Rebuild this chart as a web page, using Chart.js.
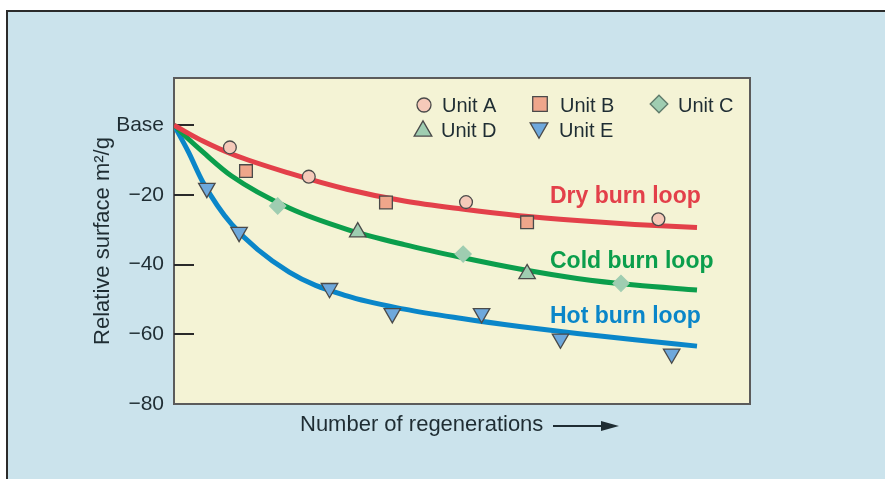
<!DOCTYPE html>
<html>
<head>
<meta charset="utf-8">
<script src="https://cdn.jsdelivr.net/npm/chart.js@4.4.1/dist/chart.umd.min.js"></script>
<style>
  html, body { margin: 0; padding: 0; background: #fff; }
  canvas { display: block; }
</style>
</head>
<body>
<canvas id="chart" width="885" height="479"></canvas>
<script>
// --- data (x = regenerations, arbitrary units) ---
const curveX   = [0, 2.5, 5, 10, 20, 30, 40, 50, 60, 70, 80, 90.8];
const dryLoop  = [0, -2.4, -4.6, -8.3, -13.8, -18.4, -21.8, -24.1, -26.0, -27.4, -28.5, -29.4];
const coldLoop = [0, -4.0, -7.7, -14.6, -23.8, -29.9, -34.3, -38.0, -41.3, -44.0, -45.9, -47.3];
const hotLoop  = [0, -7.7, -16.3, -28.4, -42.2, -49.0, -52.8, -55.5, -57.8, -59.8, -61.6, -63.4];
const loopNames = ['Dry burn loop', 'Cold burn loop', 'Hot burn loop'];

const unitAX = [9.7, 23.4, 50.7, 84.1];
const unitAY = [-6.4, -14.8, -22.1, -27.0];
const unitBX = [12.5, 36.8, 61.3];
const unitBY = [-13.2, -22.2, -27.9];
const unitCX = [18.0, 50.2, 77.6];
const unitCY = [-23.2, -37.0, -45.4];
const unitDX = [31.9, 61.3];
const unitDY = [-30.7, -42.7];
const unitEX = [5.7, 11.3, 27.0, 37.9, 53.4, 67.1, 86.4];
const unitEY = [-18.1, -30.7, -46.8, -54.0, -54.0, -61.3, -65.6];

const yTicks = [0, -20, -40, -60, -80];
const yTickLabels = ['Base', '\u221220', '\u221240', '\u221260', '\u221280'];

const TEXT = '#1f2d33';
const EDGE = '#4a4a4a';
const FONT = "'Liberation Sans', Arial, Helvetica, sans-serif";

const pts = (xs, ys) => xs.map((x, i) => ({ x, y: ys[i] }));

function curve(label, ys, color) {
    return {
        type: 'line', label, data: pts(curveX, ys),
        borderColor: color, borderWidth: 5, pointRadius: 0,
        cubicInterpolationMode: 'monotone', fill: false, order: 2
    };
}

function marker(label, xs, ys, style, radius, fill, edge, rotation) {
    return {
        type: 'scatter', label, data: pts(xs, ys),
        pointStyle: style, pointRadius: radius, pointRotation: rotation || 0,
        pointBackgroundColor: fill, pointBorderColor: edge, pointBorderWidth: 1.3,
        showLine: false, order: 1
    };
}

const markers = [
    marker('Unit A', unitAX, unitAY, 'circle', 6.4, '#f5c9b9', EDGE),
    marker('Unit B', unitBX, unitBY, 'rect', 9, '#efa68b', EDGE),
    marker('Unit C', unitCX, unitCY, 'rectRot', 8, '#9fcdb1', '#9fcdb1'),
    marker('Unit D', unitDX, unitDY, 'triangle', 9.5, '#9fcdb1', EDGE),
    marker('Unit E', unitEX, unitEY, 'triangle', 9.5, '#6ea8dc', EDGE, 180)
];
const curves = [
    curve(loopNames[0], dryLoop, '#e3404a'),
    curve(loopNames[1], coldLoop, '#0b9e4c'),
    curve(loopNames[2], hotLoop, '#0a86c9')
];

// --- backgrounds, frame, short ticks, legend, labels ---
const decor = {
    id: 'decor',
    beforeDraw(chart) {
        const { ctx, chartArea: a } = chart;
        ctx.save();
        ctx.fillStyle = '#fff';
        ctx.fillRect(0, 0, chart.width, chart.height);
        ctx.fillStyle = '#2b2b2b';
        ctx.fillRect(6, 10, chart.width - 6, 2);
        ctx.fillRect(6, 10, 2, chart.height - 10);
        ctx.fillStyle = '#cbe3ec';
        ctx.fillRect(8, 12, chart.width - 8, chart.height - 12);
        ctx.fillStyle = '#f4f3d5';
        ctx.fillRect(a.left, a.top, a.right - a.left, a.bottom - a.top);
        ctx.restore();
    },
    beforeDatasetsDraw(chart) {
        const { ctx, chartArea: a, scales: { y } } = chart;
        ctx.save();
        ctx.strokeStyle = '#5b5b5b';
        ctx.lineWidth = 2;
        ctx.strokeRect(a.left, a.top, a.right - a.left, a.bottom - a.top);
        ctx.strokeStyle = '#2a2a2a';
        ctx.lineWidth = 2;
        yTicks.slice(0, 4).forEach(v => {
            const py = Math.round(y.getPixelForValue(v));
            ctx.beginPath();
            ctx.moveTo(a.left, py);
            ctx.lineTo(a.left + 20, py);
            ctx.stroke();
        });
        ctx.restore();
    },
    afterDraw(chart) {
        const { ctx } = chart;
        const dp = Chart.helpers.drawPoint;
        ctx.save();

        // legend
        const slots = [
            [424, 105, 442, 112], [540, 104, 560, 112], [659, 104, 678, 112],
            [423, 131, 441, 137], [539, 128, 559, 137]
        ];
        const sizes = [7, 10.3, 8.8, 10.2, 10.2];
        ctx.font = '20px ' + FONT;
        ctx.textBaseline = 'alphabetic';
        markers.forEach((ds, i) => {
            const [ix, iy, tx, ty] = slots[i];
            ctx.fillStyle = ds.pointBackgroundColor;
            ctx.strokeStyle = i === 2 ? '#5e7a6a' : EDGE;
            ctx.lineWidth = 1.3;
            dp(ctx, { pointStyle: ds.pointStyle, rotation: ds.pointRotation, radius: sizes[i], borderWidth: 1.3 }, ix, iy);
            ctx.fillStyle = TEXT;
            ctx.fillText(ds.label, tx, ty);
        });

        // curve labels
        ctx.font = 'bold 23px ' + FONT;
        const baselines = [203, 268, 323];
        curves.forEach((ds, i) => {
            ctx.fillStyle = ds.borderColor;
            ctx.fillText(ds.label, 550, baselines[i]);
        });

        // x title with arrow
        ctx.font = '22px ' + FONT;
        ctx.fillStyle = TEXT;
        ctx.fillText('Number of regenerations', 300, 431);
        ctx.strokeStyle = TEXT;
        ctx.lineWidth = 2;
        ctx.beginPath();
        ctx.moveTo(553, 426);
        ctx.lineTo(605, 426);
        ctx.stroke();
        ctx.beginPath();
        ctx.moveTo(619, 426);
        ctx.lineTo(601, 421);
        ctx.lineTo(601, 431);
        ctx.closePath();
        ctx.fill();
        ctx.restore();
    }
};

Chart.defaults.font.family = FONT;
Chart.defaults.color = TEXT;

new Chart(document.getElementById('chart'), {
    data: { datasets: [...markers, ...curves] },
    options: {
        responsive: false,
        animation: false,
        layout: { padding: { left: 0, top: 78, right: 135, bottom: 0 } },
        plugins: { legend: { display: false }, tooltip: { enabled: false } },
        scales: {
            x: {
                type: 'linear', min: 0, max: 100,
                ticks: { display: false },
                grid: { display: false, drawTicks: false },
                border: { display: false },
                afterFit: s => { s.height = 75; }
            },
            y: {
                type: 'linear', min: -80, max: 13.5,
                afterBuildTicks: s => { s.ticks = yTicks.map(v => ({ value: v })); },
                ticks: {
                    padding: 10,
                    font: { size: 21 },
                    color: TEXT,
                    callback: v => yTickLabels[yTicks.indexOf(v)]
                },
                grid: { display: false, drawTicks: false },
                border: { display: false },
                title: {
                    display: true,
                    text: 'Relative surface m\u00b2/g',
                    font: { size: 22 },
                    color: TEXT,
                    padding: { top: 90, bottom: 0 }
                },
                afterFit: s => { s.width = 174; }
            }
        }
    },
    plugins: [decor]
});
</script>
</body>
</html>
